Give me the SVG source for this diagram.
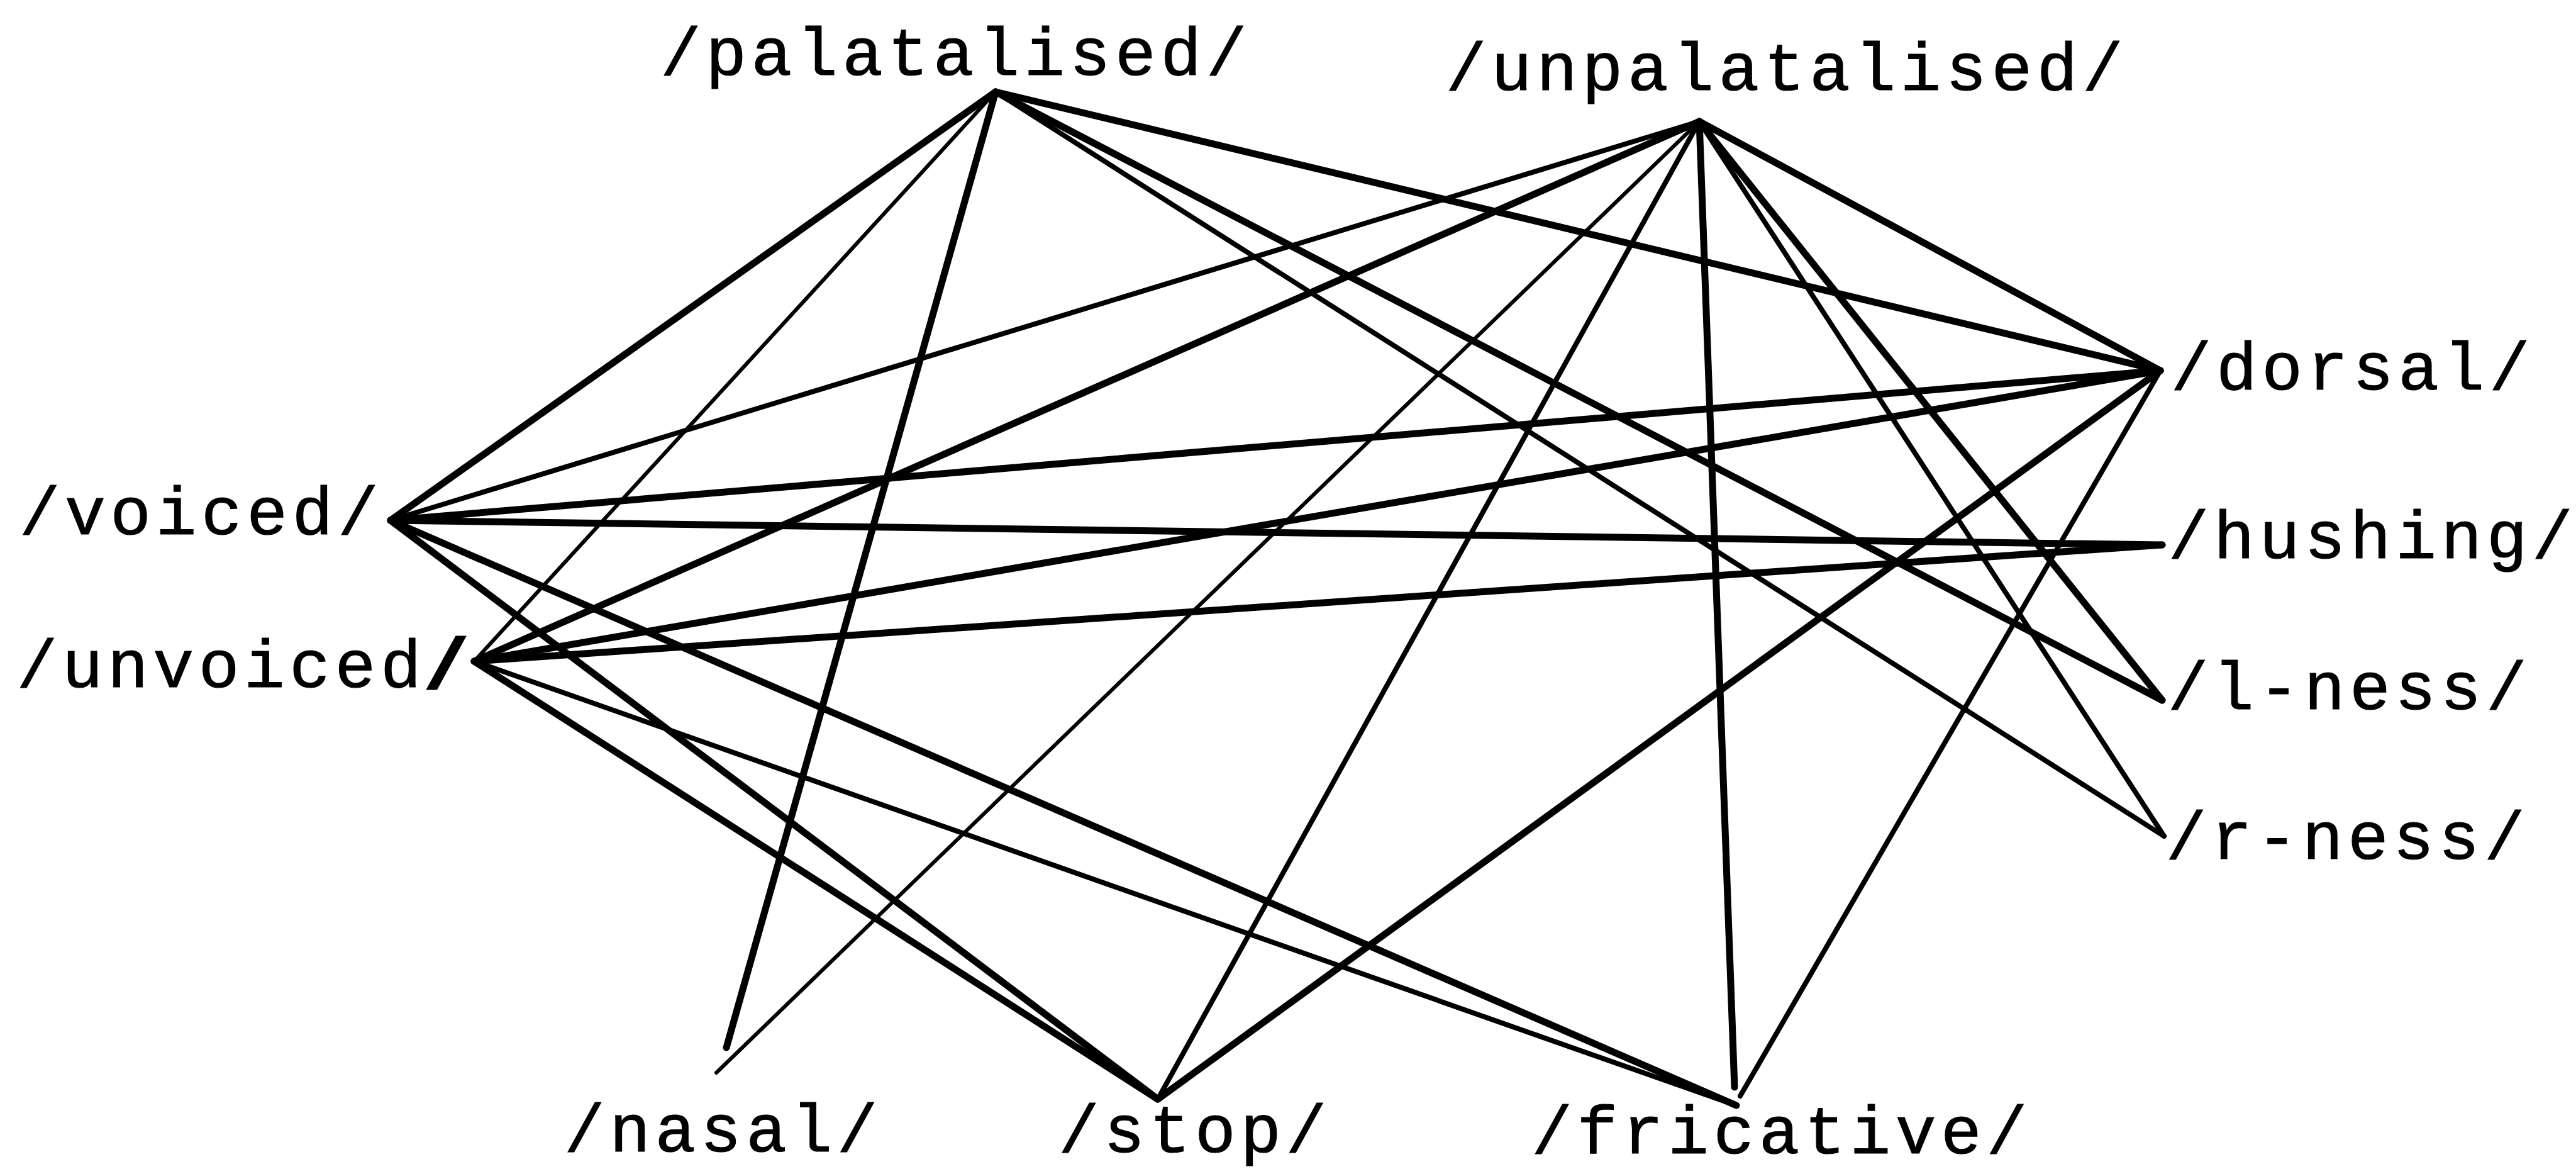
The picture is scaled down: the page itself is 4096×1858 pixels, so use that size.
<svg xmlns="http://www.w3.org/2000/svg" width="4096" height="1858" viewBox="0 0 4096 1858">
  <style>
    .lbl { font-family: "Liberation Mono", "Courier New", monospace; font-size: 108px; letter-spacing: 7.5px; fill: #000; stroke: #000; stroke-width: 1.2; text-anchor: middle; }
    .edge { stroke: #000; stroke-linecap: round; fill: none; }
    .thick { stroke-width: 11; }
    .med { stroke-width: 8; }
    .thin { stroke-width: 6; }
  </style>
  <rect width="4096" height="1858" fill="#fff"/>

  <!-- connectors between the feature labels -->
  <g id="connectors">
    <!-- from /palatalised/ -->
    <line class="edge thick" x1="1583" y1="146" x2="621" y2="827"/>
    <line class="edge thin" x1="1583" y1="146" x2="754" y2="1051"/>
    <line class="edge thick" x1="1583" y1="146" x2="1155" y2="1665"/>
    <line class="edge thick" x1="1583" y1="146" x2="3435" y2="589"/>
    <line class="edge thick" x1="1583" y1="146" x2="3438" y2="1113"/>
    <line class="edge med" x1="1583" y1="146" x2="3441" y2="1329"/>
    <!-- from /unpalatalised/ -->
    <line class="edge med" x1="2702" y1="193" x2="621" y2="827"/>
    <line class="edge thick" x1="2702" y1="193" x2="754" y2="1051"/>
    <line class="edge thin" x1="2702" y1="193" x2="1139" y2="1705"/>
    <line class="edge med" x1="2702" y1="193" x2="1841" y2="1747"/>
    <line class="edge thick" x1="2702" y1="193" x2="2758" y2="1728"/>
    <line class="edge thick" x1="2702" y1="193" x2="3435" y2="589"/>
    <line class="edge thick" x1="2702" y1="193" x2="3438" y2="1113"/>
    <line class="edge med" x1="2702" y1="193" x2="3441" y2="1329"/>
    <!-- from /voiced/ -->
    <line class="edge thick" x1="621" y1="827" x2="3435" y2="589"/>
    <line class="edge thick" x1="621" y1="827" x2="3438" y2="866"/>
    <line class="edge thick" x1="621" y1="827" x2="1841" y2="1747"/>
    <line class="edge thick" x1="621" y1="827" x2="2761" y2="1757"/>
    <!-- from /unvoiced/ -->
    <line class="edge thick" x1="754" y1="1051" x2="3435" y2="589"/>
    <line class="edge thick" x1="754" y1="1051" x2="3438" y2="866"/>
    <line class="edge thick" x1="754" y1="1051" x2="1841" y2="1747"/>
    <line class="edge med" x1="754" y1="1051" x2="2761" y2="1757"/>
    <!-- /stop/ and /fricative/ up to /dorsal/ -->
    <line class="edge thick" x1="1841" y1="1747" x2="3435" y2="589"/>
    <line class="edge med" x1="2767" y1="1742" x2="3435" y2="589"/>
  </g>

  <g id="palatalised"><text class="lbl" x="1520" y="119">/palatalised/</text></g>
  <g id="unpalatalised"><text class="lbl" x="2841" y="143">/unpalatalised/</text></g>
  <g id="dorsal"><text class="lbl" x="3741" y="619">/dorsal/</text></g>
  <g id="hushing"><text class="lbl" x="3773" y="887">/hushing/</text></g>
  <g id="l-ness"><text class="lbl" x="3736" y="1127">/l-ness/</text></g>
  <g id="r-ness"><text class="lbl" x="3733" y="1365">/r-ness/</text></g>
  <g id="voiced"><text class="lbl" x="320" y="849">/voiced/</text></g>
  <g id="unvoiced"><text class="lbl" x="388" y="1092">/unvoiced<tspan style="stroke-width:7">/</tspan></text></g>
  <g id="nasal"><text class="lbl" x="1150" y="1830">/nasal/</text></g>
  <g id="stop"><text class="lbl" x="1900" y="1831">/stop/</text></g>
  <g id="fricative"><text class="lbl" x="2833" y="1833">/fricative/</text></g>
</svg>
